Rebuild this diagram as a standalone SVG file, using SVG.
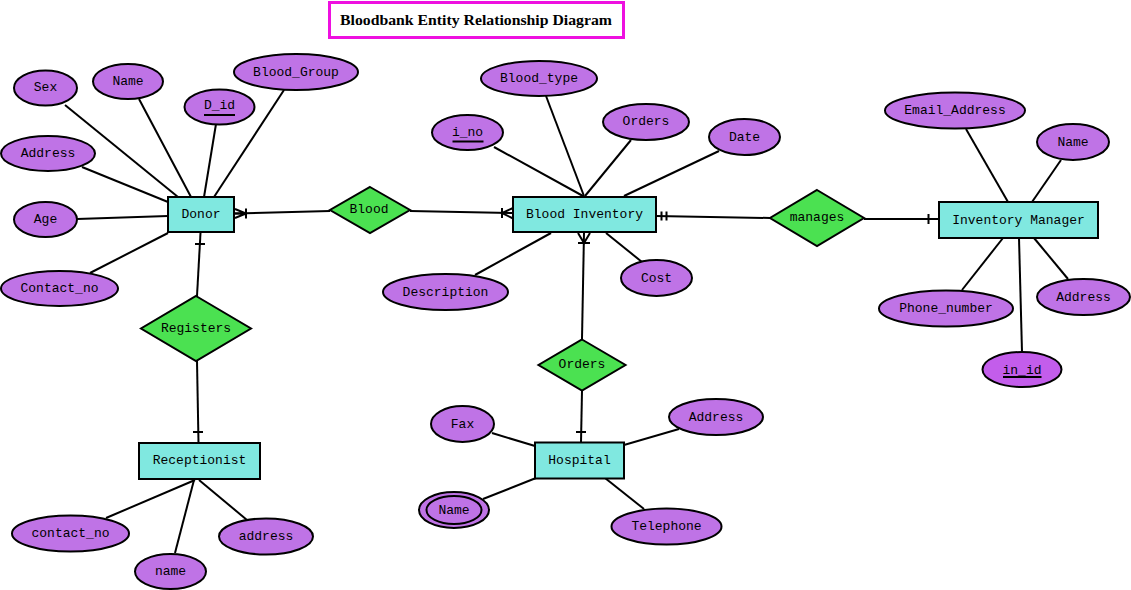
<svg xmlns="http://www.w3.org/2000/svg" width="1131" height="590" viewBox="0 0 1131 590">
<style>
.ent{fill:#80E8E0;stroke:#000;stroke-width:2}
.rel{fill:#4BE151;stroke:#000;stroke-width:2}
.att{fill:#BF73E6;stroke:#000;stroke-width:2}
.key{fill:#C35DEB;stroke:#000;stroke-width:2}
.ln{stroke:#000;stroke-width:2;fill:none}
.ul{stroke:#000;stroke-width:2}
text{font-family:"Liberation Mono","Courier New",monospace;font-size:13px;fill:#000;text-anchor:middle}
.title{font-family:"Liberation Serif","Times New Roman",serif;font-weight:bold;font-size:15px}
</style>
<rect width="1131" height="590" fill="#fff"/>
<g id="title">
<rect x="329.5" y="2.5" width="294" height="35" fill="#fff" stroke="#EE10E0" stroke-width="3"/>
<text class="title" x="476" y="25" textLength="272" lengthAdjust="spacingAndGlyphs">Bloodbank Entity Relationship Diagram</text>
</g>
<g id="connectors">
<!-- Donor attributes -->
<line class="ln" x1="65" y1="105" x2="178" y2="197"/>
<line class="ln" x1="139" y1="99" x2="191" y2="197"/>
<line class="ln" x1="216" y1="124" x2="204" y2="197"/>
<line class="ln" x1="284" y1="90" x2="214" y2="197"/>
<line class="ln" x1="82" y1="167" x2="168" y2="202"/>
<line class="ln" x1="77" y1="219" x2="168" y2="216"/>
<line class="ln" x1="90" y1="273" x2="168" y2="233"/>
<!-- Donor - Blood -->
<line class="ln" x1="234" y1="213.5" x2="330" y2="211"/>
<path class="ln" d="M235,209 L246,213.5 L235,218 M235,213.5 L246,213.5 M246,208.5 L246,218.5"/>
<!-- Blood - Blood Inventory -->
<line class="ln" x1="410" y1="211" x2="513" y2="213"/>
<path class="ln" d="M513,208 L502,213 L513,218.5 M502,208 L502,218"/>
<!-- Blood Inventory attributes -->
<line class="ln" x1="494" y1="147" x2="583" y2="196"/>
<line class="ln" x1="546" y1="96" x2="584" y2="196"/>
<line class="ln" x1="631" y1="140" x2="585" y2="196"/>
<line class="ln" x1="719" y1="151" x2="624" y2="196"/>
<line class="ln" x1="475" y1="275" x2="551" y2="233"/>
<line class="ln" x1="642" y1="262" x2="606" y2="233"/>
<!-- Blood Inventory - manages -->
<line class="ln" x1="656" y1="216" x2="770" y2="218"/>
<path class="ln" d="M661.5,211.5 L661.5,220.5 M666.5,211.5 L666.5,220.5"/>
<!-- manages - Inventory Manager -->
<line class="ln" x1="864" y1="219" x2="939" y2="219"/>
<path class="ln" d="M928.5,214 L928.5,224"/>
<!-- Inventory Manager attributes -->
<line class="ln" x1="966" y1="129" x2="1008" y2="202"/>
<line class="ln" x1="1061" y1="160" x2="1032" y2="202"/>
<line class="ln" x1="962" y1="290" x2="1003" y2="238"/>
<line class="ln" x1="1022" y1="352" x2="1019" y2="238"/>
<line class="ln" x1="1068" y1="279" x2="1034" y2="238"/>
<!-- Donor - Registers -->
<line class="ln" x1="200.5" y1="233" x2="197" y2="296"/>
<path class="ln" d="M195,244 L205,244"/>
<!-- Registers - Receptionist -->
<line class="ln" x1="197" y1="361" x2="198.5" y2="443"/>
<path class="ln" d="M193,432 L203,432"/>
<!-- Receptionist attributes -->
<line class="ln" x1="106" y1="518" x2="195" y2="480"/>
<line class="ln" x1="175" y1="553" x2="194" y2="480"/>
<line class="ln" x1="247" y1="520" x2="199" y2="480"/>
<!-- Blood Inventory - Orders -->
<line class="ln" x1="584" y1="233" x2="582" y2="339"/>
<path class="ln" d="M578,233 L584,243 L590,233 M578,243 L590,243"/>
<!-- Orders - Hospital -->
<line class="ln" x1="582" y1="391" x2="581" y2="442"/>
<path class="ln" d="M576,432 L586,432"/>
<!-- Hospital attributes -->
<line class="ln" x1="492" y1="433" x2="535" y2="446"/>
<line class="ln" x1="679" y1="429" x2="624" y2="445"/>
<line class="ln" x1="483" y1="499" x2="536" y2="478"/>
<line class="ln" x1="644" y1="509" x2="605" y2="478"/>
</g>
<g id="donor">
<rect class="ent" x="168" y="197" width="66" height="35"/>
<text x="201" y="218">Donor</text>
</g>
<g id="donor-sex"><ellipse class="att" cx="45.5" cy="88" rx="31.5" ry="17.5"/><text x="45.5" y="91">Sex</text></g>
<g id="donor-name"><ellipse class="att" cx="128" cy="81.5" rx="35" ry="17.5"/><text x="128" y="84.5">Name</text></g>
<g id="donor-did"><ellipse class="att" cx="219.5" cy="107" rx="35" ry="17.5"/><text x="219.5" y="109">D_id</text><line class="ul" x1="204" y1="115" x2="235" y2="115"/></g>
<g id="donor-bloodgroup"><ellipse class="att" cx="296" cy="72" rx="62" ry="18"/><text x="296" y="75.5">Blood_Group</text></g>
<g id="donor-address"><ellipse class="att" cx="48" cy="153.5" rx="47" ry="17.5"/><text x="48" y="156.5">Address</text></g>
<g id="donor-age"><ellipse class="att" cx="45.5" cy="219.5" rx="31.5" ry="17.5"/><text x="45.5" y="222.5">Age</text></g>
<g id="donor-contact"><ellipse class="att" cx="59.5" cy="288.5" rx="58.5" ry="17.5"/><text x="59.5" y="291.5">Contact_no</text></g>
<g id="blood">
<polygon class="rel" points="370,187 410,210 370,233 330,210"/>
<text x="369" y="213">Blood</text>
</g>
<g id="blood-inventory">
<rect class="ent" x="513" y="197" width="143" height="35"/>
<text x="584.5" y="218">Blood Inventory</text>
</g>
<g id="bi-bloodtype"><ellipse class="att" cx="539" cy="78.5" rx="58" ry="17.5"/><text x="539" y="81.5">Blood_type</text></g>
<g id="bi-ino"><ellipse class="att" cx="467.5" cy="132.5" rx="35.5" ry="17.5"/><text x="467.5" y="136">i_no</text><line class="ul" x1="452.5" y1="141.5" x2="483.5" y2="141.5"/></g>
<g id="bi-orders"><ellipse class="att" cx="646" cy="122" rx="43" ry="18"/><text x="646" y="125">Orders</text></g>
<g id="bi-date"><ellipse class="att" cx="744.5" cy="137" rx="35.5" ry="18"/><text x="744.5" y="141">Date</text></g>
<g id="bi-description"><ellipse class="att" cx="445.5" cy="292" rx="62.5" ry="18"/><text x="445.5" y="295.5">Description</text></g>
<g id="bi-cost"><ellipse class="att" cx="656.5" cy="278" rx="35.5" ry="18"/><text x="656.5" y="281.5">Cost</text></g>
<g id="manages">
<polygon class="rel" points="817,190 864,218 817,246 770,218"/>
<text x="817" y="221">manages</text>
</g>
<g id="inventory-manager">
<rect class="ent" x="939" y="202" width="159" height="36"/>
<text x="1018.5" y="223.5">Inventory Manager</text>
</g>
<g id="im-email"><ellipse class="att" cx="955" cy="110.5" rx="70" ry="18"/><text x="955" y="114">Email_Address</text></g>
<g id="im-name"><ellipse class="att" cx="1073" cy="142" rx="36" ry="18"/><text x="1073" y="146">Name</text></g>
<g id="im-phone"><ellipse class="att" cx="946" cy="308.5" rx="67" ry="18"/><text x="946" y="312">Phone_number</text></g>
<g id="im-address"><ellipse class="att" cx="1083.5" cy="297" rx="46.5" ry="18"/><text x="1083.5" y="301">Address</text></g>
<g id="im-inid"><ellipse class="key" cx="1022" cy="369.5" rx="39.5" ry="17.5"/><text x="1022" y="374">in_id</text><line class="ul" x1="1003" y1="377" x2="1041.5" y2="377"/></g>
<g id="registers">
<polygon class="rel" points="196,296 251,328.5 196,361 141,328.5"/>
<text x="196" y="331.5">Registers</text>
</g>
<g id="receptionist">
<rect class="ent" x="139" y="443" width="121" height="36"/>
<text x="199.5" y="463.5">Receptionist</text>
</g>
<g id="rec-contact"><ellipse class="att" cx="70.5" cy="533.5" rx="58.5" ry="18"/><text x="70.5" y="536.5">contact_no</text></g>
<g id="rec-name"><ellipse class="att" cx="170.5" cy="571.5" rx="35.5" ry="17.5"/><text x="170.5" y="574.5">name</text></g>
<g id="rec-address"><ellipse class="att" cx="266" cy="536.5" rx="47" ry="18"/><text x="266" y="539.5">address</text></g>
<g id="orders">
<polygon class="rel" points="582,339.5 625.5,365 582,390.5 538.5,365"/>
<text x="582" y="368">Orders</text>
</g>
<g id="hospital">
<rect class="ent" x="535" y="442.5" width="89" height="36"/>
<text x="579.5" y="464">Hospital</text>
</g>
<g id="h-fax"><ellipse class="att" cx="462.5" cy="424" rx="31.5" ry="18"/><text x="462.5" y="427.5">Fax</text></g>
<g id="h-address"><ellipse class="att" cx="716" cy="417" rx="47" ry="18"/><text x="716" y="420.5">Address</text></g>
<g id="h-name"><ellipse class="att" cx="454" cy="510" rx="35" ry="18"/><ellipse fill="none" stroke="#000" stroke-width="2" cx="454" cy="510" rx="27.5" ry="14"/><text x="454" y="513.5">Name</text></g>
<g id="h-telephone"><ellipse class="att" cx="666.5" cy="526.5" rx="55" ry="18"/><text x="666.5" y="530">Telephone</text></g>
</svg>
